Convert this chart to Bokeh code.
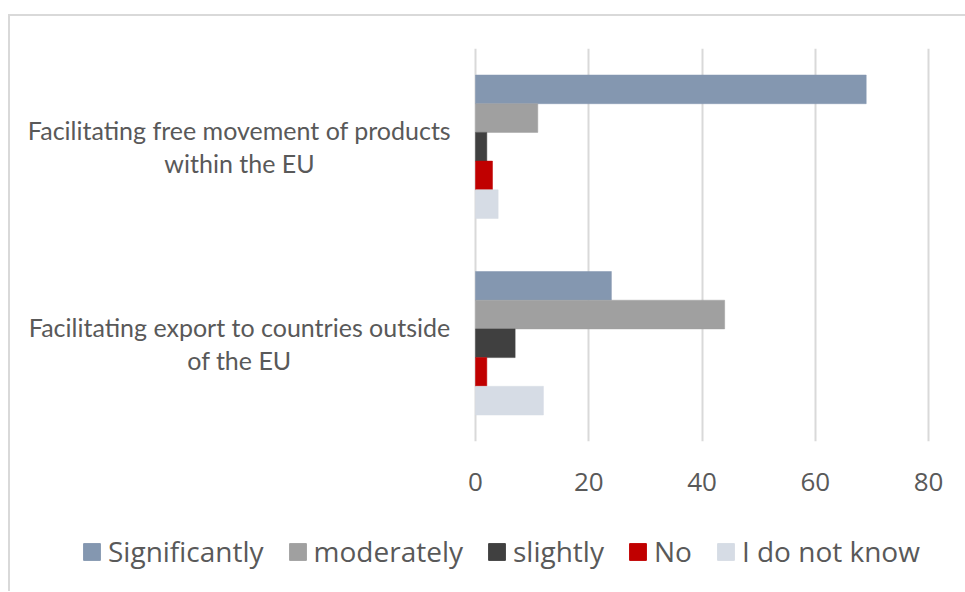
from bokeh.plotting import figure
from bokeh.layouts import column
from bokeh.models import FactorRange, Range1d, Legend, LegendItem, FixedTicker, ColumnDataSource
from bokeh.transform import dodge
from bokeh.core.properties import value
from bokeh.embed import file_html
from bokeh.resources import INLINE

categories = ["Facilitating free movement of products\nwithin the EU",
              "Facilitating export to countries outside\nof the EU"]
series = ["Significantly", "moderately", "slightly", "No", "I do not know"]
significantly = [69, 24]
moderately = [11, 44]
slightly = [2, 7]
no = [3, 2]
do_not_know = [4, 12]
colors = ["#8497B0", "#A0A0A0", "#404040", "#C00000", "#D6DCE5"]
x_ticks = [0, 20, 40, 60, 80]

TEXT = "#595959"
FONT = "Open Sans"

# layout (screen pixels inside the canvas)
ZERO_PX = 465          # where value 0 sits, from the frame's left edge
SCALE_PX = 453         # pixels for the 0..80 span
RIGHT_PAD_PX = 7
LABEL_CENTER_PX = 229  # centre of the category labels
CANVAS_W = 955
px_per_unit = SCALE_PX / x_ticks[-1]
x_start = -ZERO_PX / px_per_unit
x_end = x_ticks[-1] + RIGHT_PAD_PX / px_per_unit
label_x = (LABEL_CENTER_PX - ZERO_PX) / px_per_unit

source = ColumnDataSource(dict(cat=categories, Significantly=significantly,
                               moderately=moderately, slightly=slightly,
                               No=no, idk=do_not_know,
                               lx=[label_x] * len(categories)))
cols = ["Significantly", "moderately", "slightly", "No", "idk"]

frame_w = ZERO_PX + SCALE_PX + RIGHT_PAD_PX
p = figure(frame_width=frame_w, frame_height=393,
           output_backend="svg", toolbar_location=None, y_axis_location=None,
           y_range=FactorRange(factors=categories[::-1], range_padding=0),
           x_range=Range1d(x_start, x_end),
           min_border_left=0, min_border_right=CANVAS_W - frame_w,
           min_border_top=32, min_border_bottom=80)
p.outline_line_color = None

bar_h = 0.146
offsets = [2 * bar_h, bar_h, 0, -bar_h, -2 * bar_h]
for col, color, off in zip(cols, colors, offsets):
    p.hbar(y=dodge("cat", off, range=p.y_range), right=col, left=0, height=bar_h,
           source=source, fill_color=color, line_color=color, line_width=0.5)

p.text(x="lx", y="cat", text="cat", source=source, text_align="center",
       text_baseline="middle", text_font=value("Lato"), text_font_size="25px",
       text_color=TEXT, text_line_height=1.1)

p.ygrid.grid_line_color = None
p.xgrid.grid_line_color = "#d9d9d9"
p.xgrid.grid_line_width = 2
p.xaxis.ticker = FixedTicker(ticks=x_ticks)
p.xaxis.axis_line_color = None
p.xaxis.major_tick_line_color = None
p.xaxis.minor_tick_line_color = None
p.xaxis.major_label_text_font = FONT
p.xaxis.major_label_text_font_size = "26px"
p.xaxis.major_label_text_color = TEXT
p.xaxis.major_label_standoff = 25

# legend strip (swatch renderers sit outside the visible range)
lp = figure(width=CANVAS_W, height=60, output_backend="svg", toolbar_location=None,
            x_axis_location=None, y_axis_location=None, min_border=0,
            x_range=Range1d(0, 1), y_range=Range1d(0, 1))
lp.outline_line_color = None
lp.grid.visible = False
items = []
for name, color in zip(series, colors):
    r = lp.hbar(y=[-5], right=[1], left=0, height=0.1, fill_color=color, line_color=color)
    items.append(LegendItem(label=name, renderers=[r]))
legend = Legend(items=items, orientation="horizontal", location="left", margin=71,
                glyph_width=21, glyph_height=21, label_standoff=6, spacing=23,
                padding=0, border_line_color=None, background_fill_alpha=0,
                label_text_font=FONT, label_text_font_size="28px", label_text_color=TEXT)
lp.add_layout(legend, "center")

layout = column(p, lp, spacing=0,
                styles={"margin-left": "8px", "margin-top": "14px", "padding-bottom": "10px",
                        "border-left": "2px solid #d9d9d9", "border-top": "2px solid #d9d9d9"})

open("out.html", "w").write(file_html(layout, INLINE))
